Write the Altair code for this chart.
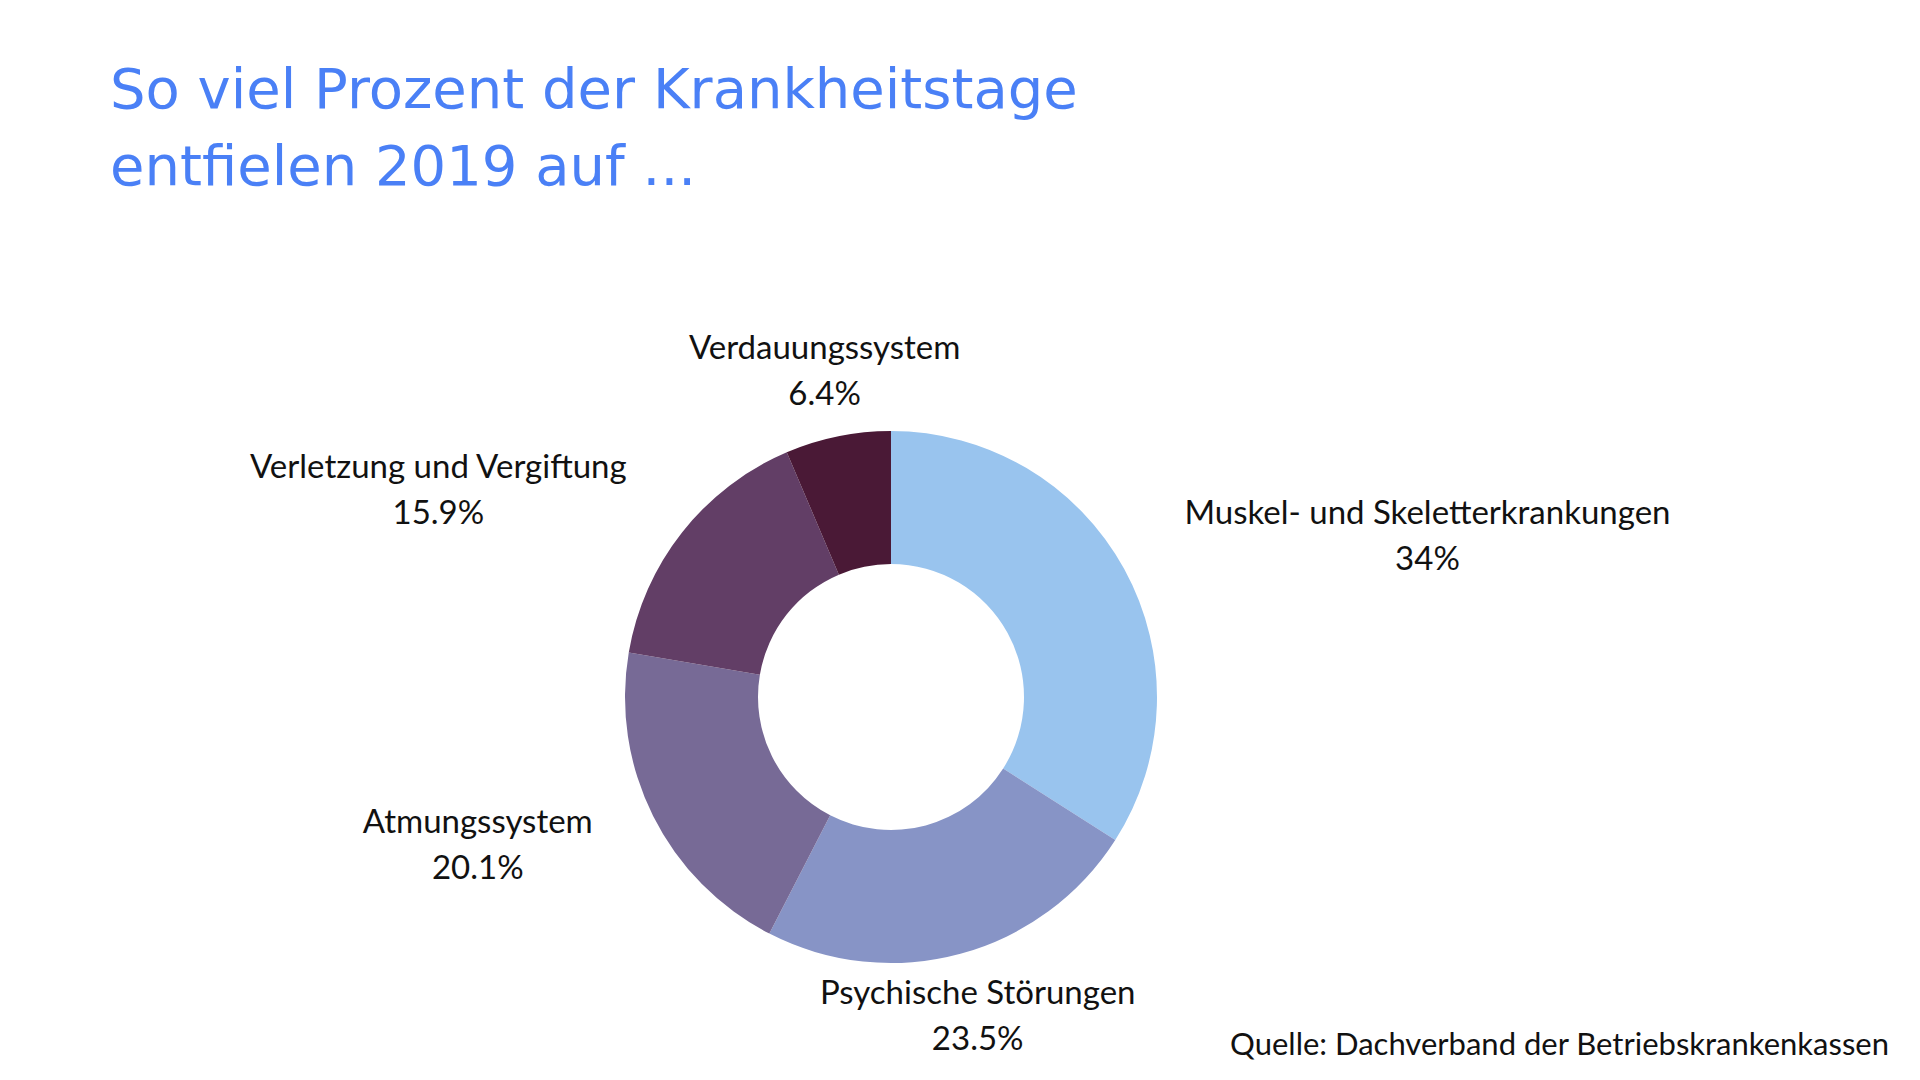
import altair as alt
import pandas as pd

categories = ["Muskel- und Skeletterkrankungen", "Psychische Störungen", "Atmungssystem",
              "Verletzung und Vergiftung", "Verdauungssystem"]
values = [34, 23.5, 20.1, 15.9, 6.4]
pct_labels = ["34%", "23.5%", "20.1%", "15.9%", "6.4%"]
colors = ["#99C4EE", "#8794C6", "#776A96", "#623E66", "#4A1936"]
title_lines = ["So viel Prozent der Krankheitstage", "entfielen 2019 auf ..."]
source_text = ["Quelle: Dachverband der Betriebskrankenkassen"]

LABEL_SIZE = 33

# approximate Lato Regular advance widths (em) used to estimate label block widths
_w = {"a": .52, "b": .57, "c": .46, "d": .57, "e": .53, "f": .32, "g": .51, "h": .57, "i": .24,
      "j": .24, "k": .51, "l": .24, "m": .85, "n": .57, "o": .57, "p": .57, "r": .37, "s": .43,
      "t": .35, "u": .57, "v": .51, "w": .77, "y": .51, "z": .45, "ö": .57, " ": .26, "-": .34,
      ".": .23, "%": .80, "M": .87, "S": .51, "V": .66, "A": .67, "P": .57}


def text_width(s):
    return sum(_w.get(ch, .58) for ch in s) * LABEL_SIZE


total = sum(values)
df = pd.DataFrame({
    "category": categories, "value": values, "pct": pct_labels,
    "order": list(range(len(categories))),
    "halfw": [max(text_width(c), text_width(p)) / 2 for c, p in zip(categories, pct_labels)],
})

CX, CY = 883, 689
R_OUT, R_IN, R_LAB = 266, 133, 332
theta_scale = alt.Scale(domain=[0, total])

base = alt.Chart(df).transform_window(
    end="sum(value)", sort=[alt.SortField("order")], frame=[None, 0]
).transform_calculate(
    start="datum.end - datum.value",
    ang="(datum.end - datum.value / 2) / %f * 2 * PI" % total,
).transform_calculate(
    side="sin(datum.ang) > 0.5 ? 1 : (sin(datum.ang) < -0.5 ? -1 : 0)",
    lines="[datum.category, datum.pct]",
).transform_calculate(
    lx="%f + %f * sin(datum.ang) + datum.side * datum.halfw" % (CX, R_LAB),
    ly="%f - %f * cos(datum.ang)" % (CY, R_LAB),
)

arcs = base.mark_arc(outerRadius=R_OUT, innerRadius=R_IN).encode(
    theta=alt.Theta("start:Q", scale=theta_scale),
    theta2="end:Q",
    color=alt.Color("category:N", scale=alt.Scale(domain=categories, range=colors), legend=None),
    x=alt.value(CX), y=alt.value(CY),
)

labels = base.mark_text(
    align="center", baseline="middle", font="Lato", fontSize=LABEL_SIZE,
    lineHeight=46, dy=-23, color="#111111"
).encode(
    x=alt.X("lx:Q", scale=None, axis=None),
    y=alt.Y("ly:Q", scale=None, axis=None),
    text="lines:N",
)

source = alt.Chart(pd.DataFrame({"t": source_text})).mark_text(
    align="right", baseline="alphabetic", font="Lato", fontSize=31, color="#111111"
).encode(text="t:N", x=alt.value(1881), y=alt.value(1047))

chart = alt.layer(arcs, labels, source).properties(
    width=1904, height=1060,
    autosize=alt.AutoSizeParams(type="none"),
    padding=0,
    background="white",
    title=alt.TitleParams(
        text=title_lines, anchor="start", frame="group", orient="top",
        baseline="alphabetic", offset=0, dx=102, dy=233,
        font="DejaVu Sans", fontSize=56, fontWeight="normal", color="#4A80F6", lineHeight=77,
    ),
).configure_view(stroke=None)

chart.save("out.html", embed_options={"renderer": "svg", "actions": False})
